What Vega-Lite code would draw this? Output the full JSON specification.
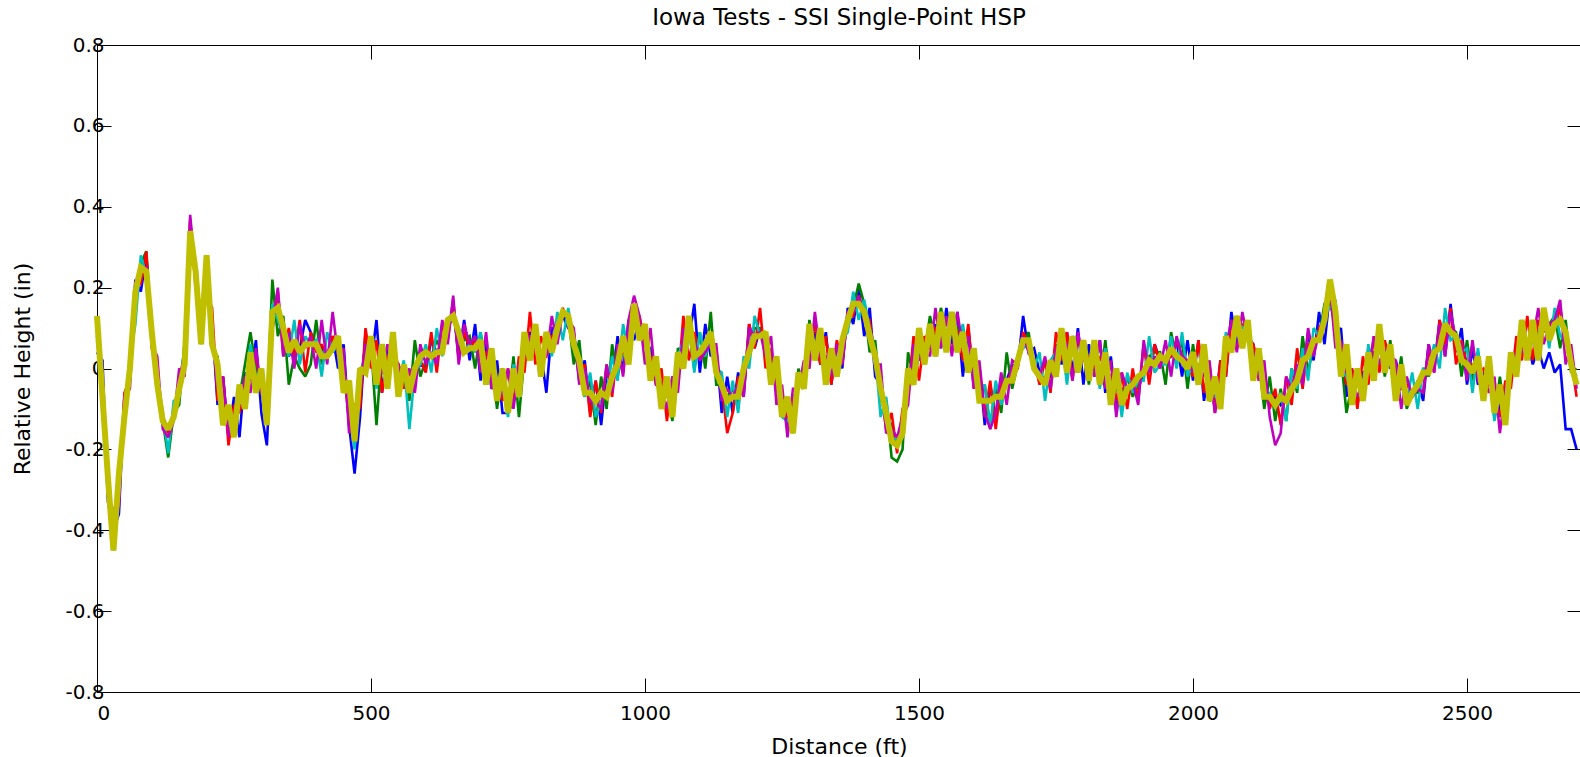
{
"$schema": "https://vega.github.io/schema/vega-lite/v6.json",
"width": 1484, "height": 647,
"autosize": {"type": "none"},
"padding": {"left": 97, "top": 45, "right": 0, "bottom": 65},
"background": "white",
"config": {
  "view": {"stroke": "black", "strokeWidth": 1},
  "font": "DejaVu Sans",
  "axis": {"labelFont": "DejaVu Sans", "labelFontSize": 20, "labelColor": "black", "titleFont": "DejaVu Sans", "titleFontSize": 22, "titleFontWeight": "normal", "titleColor": "black", "tickColor": "black", "domainColor": "black", "grid": false, "tickSize": -14},
  "line": {"strokeJoin": "miter", "strokeMiterLimit": 2}
},
"title": {"text": "Iowa Tests - SSI Single-Point HSP", "fontSize": 23, "fontWeight": "normal", "color": "black", "font": "DejaVu Sans", "offset": 5},
"data": {"values": [
{"x":0,"b":0.04,"g":0.11,"r":0.08,"c":0.07,"m":0.12,"k":0.13},
{"x":10,"b":0.02,"g":-0.08,"r":-0.02,"c":-0.04,"m":-0.04,"k":-0.07},
{"x":20,"b":-0.33,"g":-0.26,"r":-0.29,"c":-0.26,"m":-0.32,"k":-0.27},
{"x":30,"b":-0.4,"g":-0.44,"r":-0.41,"c":-0.45,"m":-0.35,"k":-0.45},
{"x":40,"b":-0.36,"g":-0.24,"r":-0.32,"c":-0.28,"m":-0.34,"k":-0.26},
{"x":50,"b":-0.07,"g":-0.13,"r":-0.06,"c":-0.09,"m":-0.07,"k":-0.12},
{"x":60,"b":-0.01,"g":0,"r":-0.03,"c":0.02,"m":-0.05,"k":0},
{"x":70,"b":0.22,"g":0.17,"r":0.21,"c":0.11,"m":0.21,"k":0.19},
{"x":80,"b":0.19,"g":0.26,"r":0.21,"c":0.28,"m":0.25,"k":0.25},
{"x":90,"b":0.28,"g":0.29,"r":0.29,"c":0.23,"m":0.25,"k":0.24},
{"x":100,"b":0.07,"g":0.09,"r":0.05,"c":0.1,"m":0.06,"k":0.09},
{"x":110,"b":-0.03,"g":-0.03,"r":-0.01,"c":-0.02,"m":0.03,"k":-0.04},
{"x":120,"b":-0.12,"g":-0.13,"r":-0.13,"c":-0.11,"m":-0.15,"k":-0.13},
{"x":130,"b":-0.15,"g":-0.22,"r":-0.16,"c":-0.21,"m":-0.17,"k":-0.15},
{"x":140,"b":-0.12,"g":-0.11,"r":-0.12,"c":-0.08,"m":-0.13,"k":-0.12},
{"x":150,"b":-0.06,"g":-0.09,"r":-0.03,"c":-0.07,"m":0,"k":-0.05},
{"x":160,"b":0.02,"g":0.07,"r":0.04,"c":0.06,"m":-0.02,"k":0.01},
{"x":170,"b":0.36,"g":0.32,"r":0.37,"c":0.29,"m":0.38,"k":0.34},
{"x":180,"b":0.23,"g":0.25,"r":0.2,"c":0.25,"m":0.23,"k":0.24},
{"x":190,"b":0.1,"g":0.06,"r":0.15,"c":0.11,"m":0.11,"k":0.06},
{"x":200,"b":0.22,"g":0.26,"r":0.18,"c":0.22,"m":0.21,"k":0.28},
{"x":210,"b":0.12,"g":0.05,"r":0.15,"c":0.07,"m":0.09,"k":0.06},
{"x":220,"b":-0.09,"g":0.03,"r":-0.08,"c":0.02,"m":-0.05,"k":0.01},
{"x":230,"b":-0.02,"g":-0.12,"r":-0.02,"c":-0.12,"m":-0.02,"k":-0.14},
{"x":240,"b":-0.17,"g":-0.13,"r":-0.19,"c":-0.14,"m":-0.17,"k":-0.09},
{"x":250,"b":-0.07,"g":-0.13,"r":-0.09,"c":-0.13,"m":-0.11,"k":-0.17},
{"x":260,"b":-0.17,"g":-0.07,"r":-0.11,"c":-0.06,"m":-0.09,"k":-0.04},
{"x":270,"b":-0.01,"g":0.01,"r":-0.04,"c":-0.1,"m":-0.02,"k":-0.1},
{"x":280,"b":-0.03,"g":0.09,"r":-0.01,"c":0.06,"m":-0.06,"k":0.04},
{"x":290,"b":0.07,"g":0,"r":0.03,"c":-0.02,"m":0.05,"k":-0.06},
{"x":300,"b":-0.11,"g":-0.04,"r":-0.05,"c":-0.05,"m":-0.06,"k":0},
{"x":310,"b":-0.19,"g":-0.1,"r":-0.11,"c":-0.12,"m":-0.11,"k":-0.14},
{"x":320,"b":0.1,"g":0.22,"r":0.11,"c":0.16,"m":0.11,"k":0.14},
{"x":330,"b":0.15,"g":0.08,"r":0.19,"c":0.12,"m":0.2,"k":0.15},
{"x":340,"b":0.08,"g":0.13,"r":0.03,"c":0.08,"m":0.03,"k":0.1},
{"x":350,"b":0.03,"g":-0.04,"r":0.1,"c":0.03,"m":0.09,"k":0.04},
{"x":360,"b":0.06,"g":0.03,"r":0.03,"c":0.12,"m":0,"k":0.07},
{"x":370,"b":0.05,"g":0,"r":0.12,"c":0.01,"m":0.11,"k":0.04},
{"x":380,"b":0.12,"g":-0.02,"r":-0.01,"c":0.08,"m":0.05,"k":0.06},
{"x":390,"b":0.09,"g":0.01,"r":0.09,"c":0.06,"m":0.08,"k":0.06},
{"x":400,"b":0.05,"g":0.12,"r":0.04,"c":0.07,"m":0,"k":0.06},
{"x":410,"b":0.05,"g":0.01,"r":0.06,"c":-0.02,"m":0.12,"k":0.03},
{"x":420,"b":0.03,"g":0.04,"r":0.03,"c":0.09,"m":0.01,"k":0.03},
{"x":430,"b":0.08,"g":0.05,"r":0.08,"c":0.04,"m":0.14,"k":0.05},
{"x":440,"b":0,"g":0.08,"r":0.05,"c":0.06,"m":0.03,"k":0.08},
{"x":450,"b":0.06,"g":-0.02,"r":0,"c":0,"m":0.05,"k":-0.06},
{"x":460,"b":-0.14,"g":-0.1,"r":-0.13,"c":-0.07,"m":-0.16,"k":-0.03},
{"x":470,"b":-0.26,"g":-0.15,"r":-0.09,"c":-0.2,"m":-0.11,"k":-0.18},
{"x":480,"b":-0.12,"g":-0.04,"r":-0.1,"c":0,"m":-0.05,"k":0},
{"x":490,"b":0.09,"g":0.06,"r":0.1,"c":0.01,"m":0.06,"k":-0.01},
{"x":500,"b":0.01,"g":0.06,"r":0,"c":0.08,"m":0.02,"k":0.08},
{"x":510,"b":0.12,"g":-0.14,"r":0.07,"c":-0.05,"m":0,"k":-0.04},
{"x":520,"b":-0.06,"g":0.05,"r":-0.06,"c":0.04,"m":-0.01,"k":0.06},
{"x":530,"b":0.05,"g":-0.03,"r":0.03,"c":-0.01,"m":0.06,"k":-0.05},
{"x":540,"b":0.01,"g":0.09,"r":0.04,"c":0.06,"m":0.01,"k":0.09},
{"x":550,"b":0.01,"g":-0.06,"r":0.01,"c":-0.03,"m":0.01,"k":-0.07},
{"x":560,"b":-0.04,"g":0.01,"r":-0.05,"c":0.02,"m":-0.03,"k":0.01},
{"x":570,"b":-0.01,"g":-0.08,"r":-0.01,"c":-0.15,"m":0,"k":-0.06},
{"x":580,"b":-0.01,"g":0.07,"r":0,"c":-0.01,"m":-0.06,"k":0},
{"x":590,"b":0.01,"g":-0.02,"r":0.02,"c":0.01,"m":0.06,"k":0.03},
{"x":600,"b":0,"g":0.02,"r":-0.01,"c":0.06,"m":0.01,"k":0.04},
{"x":610,"b":0.07,"g":0.03,"r":0.09,"c":-0.01,"m":0.04,"k":0.03},
{"x":620,"b":0.04,"g":0.07,"r":-0.01,"c":0.1,"m":0.01,"k":0.04},
{"x":630,"b":0.06,"g":0.04,"r":0.11,"c":0.03,"m":0.12,"k":0.04},
{"x":640,"b":0.1,"g":0.11,"r":0.07,"c":0.11,"m":0.06,"k":0.12},
{"x":650,"b":0.15,"g":0.12,"r":0.17,"c":0.12,"m":0.18,"k":0.13},
{"x":660,"b":0.03,"g":0.09,"r":0.02,"c":0.1,"m":0.01,"k":0.09},
{"x":670,"b":0.12,"g":0.07,"r":0.09,"c":0.04,"m":0.11,"k":0.04},
{"x":680,"b":0.02,"g":0.08,"r":0.05,"c":0.06,"m":0.06,"k":0.05},
{"x":690,"b":0.11,"g":0,"r":0.07,"c":0.04,"m":0.08,"k":0.05},
{"x":700,"b":-0.03,"g":0.09,"r":0.03,"c":0.09,"m":-0.01,"k":0.07},
{"x":710,"b":0.06,"g":-0.01,"r":0.04,"c":-0.03,"m":0.09,"k":-0.04},
{"x":720,"b":-0.05,"g":0.02,"r":-0.02,"c":0.01,"m":-0.05,"k":0.05},
{"x":730,"b":0.02,"g":-0.1,"r":-0.04,"c":-0.04,"m":-0.04,"k":-0.08},
{"x":740,"b":-0.11,"g":0,"r":-0.08,"c":-0.03,"m":-0.07,"k":0},
{"x":750,"b":-0.11,"g":-0.1,"r":0,"c":-0.12,"m":0,"k":-0.11},
{"x":760,"b":-0.08,"g":0.03,"r":-0.09,"c":0.01,"m":-0.1,"k":0},
{"x":770,"b":-0.01,"g":-0.12,"r":0.03,"c":-0.04,"m":0.01,"k":-0.07},
{"x":780,"b":0.03,"g":0.03,"r":-0.01,"c":0.04,"m":0.03,"k":0.09},
{"x":790,"b":0.09,"g":0.06,"r":0.14,"c":0.07,"m":0.08,"k":0.02},
{"x":800,"b":0.06,"g":0.1,"r":0.01,"c":0.1,"m":0.08,"k":0.11},
{"x":810,"b":0.04,"g":0.03,"r":0.08,"c":-0.01,"m":0.04,"k":-0.02},
{"x":820,"b":-0.06,"g":0.04,"r":0.03,"c":0.09,"m":0.03,"k":0.09},
{"x":830,"b":0.1,"g":0.06,"r":0.08,"c":0.03,"m":0.13,"k":0.04},
{"x":840,"b":0.1,"g":0.11,"r":0.09,"c":0.14,"m":0.06,"k":0.1},
{"x":850,"b":0.13,"g":0.14,"r":0.15,"c":0.07,"m":0.14,"k":0.14},
{"x":860,"b":0.1,"g":0.13,"r":0.11,"c":0.15,"m":0.12,"k":0.13},
{"x":870,"b":0.09,"g":0.01,"r":0.07,"c":0.06,"m":0.1,"k":0.06},
{"x":880,"b":-0.03,"g":0.07,"r":-0.01,"c":0.03,"m":-0.04,"k":0.02},
{"x":890,"b":0.02,"g":-0.07,"r":0.01,"c":-0.07,"m":0,"k":-0.06},
{"x":900,"b":-0.11,"g":-0.03,"r":-0.12,"c":-0.01,"m":-0.08,"k":-0.06},
{"x":910,"b":-0.03,"g":-0.14,"r":-0.03,"c":-0.12,"m":-0.08,"k":-0.08},
{"x":920,"b":-0.14,"g":-0.02,"r":-0.11,"c":-0.08,"m":-0.1,"k":-0.06},
{"x":930,"b":-0.01,"g":-0.1,"r":0.01,"c":-0.06,"m":0.01,"k":-0.07},
{"x":940,"b":-0.04,"g":0.06,"r":-0.07,"c":0.03,"m":-0.06,"k":-0.02},
{"x":950,"b":0.08,"g":-0.02,"r":0.05,"c":-0.03,"m":0.06,"k":0.01},
{"x":960,"b":-0.01,"g":0.05,"r":0.04,"c":0.11,"m":-0.02,"k":0.08},
{"x":970,"b":0.12,"g":0.06,"r":0.08,"c":0.04,"m":0.12,"k":0.01},
{"x":980,"b":0.07,"g":0.14,"r":0.1,"c":0.11,"m":0.18,"k":0.16},
{"x":990,"b":0.12,"g":0.09,"r":0.13,"c":0.1,"m":0.13,"k":0.07},
{"x":1000,"b":0.06,"g":0.06,"r":0.06,"c":0.08,"m":0.01,"k":0.11},
{"x":1010,"b":0.05,"g":0.02,"r":0.03,"c":0.01,"m":0.1,"k":-0.03},
{"x":1020,"b":-0.02,"g":0,"r":-0.04,"c":-0.01,"m":-0.04,"k":0.03},
{"x":1030,"b":-0.06,"g":-0.04,"r":0,"c":-0.07,"m":-0.05,"k":-0.1},
{"x":1040,"b":-0.1,"g":-0.06,"r":-0.13,"c":-0.03,"m":-0.1,"k":-0.02},
{"x":1050,"b":-0.04,"g":-0.13,"r":-0.02,"c":-0.12,"m":-0.02,"k":-0.12},
{"x":1060,"b":0,"g":0.05,"r":-0.04,"c":0.03,"m":-0.06,"k":0.04},
{"x":1070,"b":0.07,"g":0.04,"r":0.13,"c":0.07,"m":0.1,"k":0},
{"x":1080,"b":0.07,"g":0.12,"r":0.02,"c":0.1,"m":0.08,"k":0.13},
{"x":1090,"b":0.16,"g":0,"r":0.09,"c":-0.01,"m":0.07,"k":0.03},
{"x":1100,"b":-0.01,"g":0.09,"r":0.03,"c":0.09,"m":0.02,"k":0.04},
{"x":1110,"b":0.11,"g":0,"r":0.06,"c":0.03,"m":0.04,"k":0.06},
{"x":1120,"b":0.03,"g":0.14,"r":0.06,"c":0.08,"m":0.06,"k":0.09},
{"x":1130,"b":0.05,"g":-0.04,"r":0.02,"c":0,"m":0.06,"k":-0.01},
{"x":1140,"b":-0.11,"g":-0.04,"r":-0.04,"c":-0.01,"m":-0.08,"k":-0.04},
{"x":1150,"b":-0.02,"g":-0.07,"r":-0.16,"c":-0.12,"m":-0.05,"k":-0.08},
{"x":1160,"b":-0.11,"g":-0.05,"r":-0.11,"c":-0.03,"m":-0.07,"k":-0.07},
{"x":1170,"b":-0.01,"g":-0.09,"r":-0.02,"c":-0.11,"m":-0.04,"k":-0.07},
{"x":1180,"b":-0.07,"g":-0.01,"r":-0.06,"c":0.03,"m":-0.07,"k":0},
{"x":1190,"b":0.11,"g":0.05,"r":0.11,"c":0,"m":0.1,"k":0.04},
{"x":1200,"b":0.05,"g":0.1,"r":0.05,"c":0.13,"m":0.08,"k":0.08},
{"x":1210,"b":0.1,"g":0.1,"r":0.15,"c":0.08,"m":0.09,"k":0.08},
{"x":1220,"b":0.06,"g":0.08,"r":0,"c":0.07,"m":0.03,"k":0.09},
{"x":1230,"b":0.04,"g":-0.04,"r":0.05,"c":-0.01,"m":0.08,"k":-0.04},
{"x":1240,"b":-0.05,"g":0.01,"r":-0.05,"c":0.02,"m":-0.09,"k":0.03},
{"x":1250,"b":-0.09,"g":-0.11,"r":-0.07,"c":-0.12,"m":-0.04,"k":-0.12},
{"x":1260,"b":-0.14,"g":-0.08,"r":-0.13,"c":-0.13,"m":-0.17,"k":-0.07},
{"x":1270,"b":-0.07,"g":-0.16,"r":-0.08,"c":-0.11,"m":-0.05,"k":-0.16},
{"x":1280,"b":-0.05,"g":0,"r":-0.05,"c":-0.01,"m":-0.05,"k":-0.01},
{"x":1290,"b":0,"g":-0.05,"r":0,"c":-0.05,"m":0.02,"k":-0.05},
{"x":1300,"b":0.04,"g":0.12,"r":0.02,"c":0.11,"m":0,"k":0.11},
{"x":1310,"b":0.09,"g":0.03,"r":0.12,"c":0.04,"m":0.14,"k":0.02},
{"x":1320,"b":0.01,"g":0.06,"r":0.01,"c":0.06,"m":0.03,"k":0.1},
{"x":1330,"b":0.09,"g":0.02,"r":0.08,"c":0.02,"m":0.03,"k":-0.04},
{"x":1340,"b":-0.04,"g":0.03,"r":-0.04,"c":0.02,"m":-0.02,"k":0.05},
{"x":1350,"b":0.06,"g":-0.01,"r":0.07,"c":-0.01,"m":0.06,"k":-0.02},
{"x":1360,"b":0,"g":0.07,"r":0.01,"c":0.07,"m":0.01,"k":0.07},
{"x":1370,"b":0.15,"g":0.1,"r":0.14,"c":0.09,"m":0.14,"k":0.12},
{"x":1380,"b":0.11,"g":0.15,"r":0.13,"c":0.19,"m":0.14,"k":0.16},
{"x":1390,"b":0.2,"g":0.21,"r":0.18,"c":0.12,"m":0.18,"k":0.16},
{"x":1400,"b":0.08,"g":0.16,"r":0.13,"c":0.17,"m":0.12,"k":0.14},
{"x":1410,"b":0.15,"g":0.04,"r":0.12,"c":0.1,"m":0.09,"k":0.08},
{"x":1420,"b":-0.02,"g":0.07,"r":0.02,"c":0.04,"m":0.01,"k":0.03},
{"x":1430,"b":-0.04,"g":-0.08,"r":-0.05,"c":-0.12,"m":0.01,"k":-0.05},
{"x":1440,"b":-0.12,"g":-0.08,"r":-0.15,"c":-0.07,"m":-0.16,"k":-0.11},
{"x":1450,"b":-0.14,"g":-0.22,"r":-0.11,"c":-0.18,"m":-0.15,"k":-0.18},
{"x":1460,"b":-0.19,"g":-0.23,"r":-0.21,"c":-0.17,"m":-0.17,"k":-0.19},
{"x":1470,"b":-0.16,"g":-0.2,"r":-0.1,"c":-0.15,"m":-0.12,"k":-0.16},
{"x":1480,"b":-0.05,"g":0.04,"r":-0.07,"c":0,"m":-0.09,"k":0},
{"x":1490,"b":0.05,"g":-0.02,"r":0.08,"c":-0.04,"m":0.06,"k":-0.04},
{"x":1500,"b":0.03,"g":0.03,"r":-0.03,"c":0.08,"m":0.02,"k":0.1},
{"x":1510,"b":0.05,"g":0.04,"r":0.08,"c":0.01,"m":0.05,"k":0.01},
{"x":1520,"b":0.05,"g":0.13,"r":0.05,"c":0.1,"m":0.03,"k":0.11},
{"x":1530,"b":0.11,"g":0.07,"r":0.1,"c":0.03,"m":0.15,"k":0.03},
{"x":1540,"b":0.05,"g":0.15,"r":0.09,"c":0.14,"m":0.05,"k":0.14},
{"x":1550,"b":0.15,"g":0.08,"r":0.11,"c":0.08,"m":0.13,"k":0.04},
{"x":1560,"b":0.06,"g":0.11,"r":0.1,"c":0.11,"m":0.03,"k":0.14},
{"x":1570,"b":0.14,"g":0.1,"r":0.09,"c":0.06,"m":0.14,"k":0.04},
{"x":1580,"b":-0.02,"g":0.07,"r":0.02,"c":0.11,"m":0.05,"k":0.09},
{"x":1590,"b":0.1,"g":0,"r":0.11,"c":0.02,"m":0.08,"k":-0.01},
{"x":1600,"b":-0.03,"g":0.05,"r":-0.05,"c":-0.01,"m":-0.05,"k":0.05},
{"x":1610,"b":0.01,"g":-0.08,"r":0,"c":-0.06,"m":0.02,"k":-0.08},
{"x":1620,"b":-0.14,"g":-0.04,"r":-0.12,"c":-0.04,"m":-0.11,"k":-0.08},
{"x":1630,"b":-0.04,"g":-0.15,"r":-0.03,"c":-0.14,"m":-0.15,"k":-0.08},
{"x":1640,"b":-0.13,"g":-0.04,"r":-0.15,"c":-0.03,"m":-0.11,"k":-0.07},
{"x":1650,"b":-0.05,"g":-0.11,"r":-0.03,"c":-0.09,"m":-0.01,"k":-0.07},
{"x":1660,"b":-0.03,"g":0.04,"r":-0.04,"c":-0.03,"m":-0.09,"k":-0.03},
{"x":1670,"b":0.01,"g":-0.05,"r":0,"c":-0.02,"m":0.02,"k":-0.03},
{"x":1680,"b":0,"g":0.01,"r":0,"c":0.03,"m":0.01,"k":0.02},
{"x":1690,"b":0.13,"g":0.06,"r":0.09,"c":0.05,"m":0.08,"k":0.07},
{"x":1700,"b":0.04,"g":0.09,"r":0.06,"c":0.06,"m":0.04,"k":0.07},
{"x":1710,"b":0.05,"g":0,"r":0.02,"c":0,"m":0.01,"k":0},
{"x":1720,"b":-0.01,"g":-0.01,"r":-0.04,"c":0.04,"m":-0.02,"k":-0.02},
{"x":1730,"b":-0.03,"g":-0.04,"r":0.02,"c":-0.08,"m":0.03,"k":-0.04},
{"x":1740,"b":-0.02,"g":0,"r":-0.06,"c":0.02,"m":-0.05,"k":0.02},
{"x":1750,"b":0.06,"g":0.05,"r":0.09,"c":0.04,"m":0.05,"k":-0.02},
{"x":1760,"b":0.01,"g":0.08,"r":0.02,"c":0.08,"m":0.07,"k":0.1},
{"x":1770,"b":0.09,"g":-0.03,"r":0.09,"c":-0.04,"m":0.06,"k":-0.01},
{"x":1780,"b":-0.01,"g":0.08,"r":-0.03,"c":0.08,"m":-0.03,"k":0.08},
{"x":1790,"b":0.1,"g":0.02,"r":0.08,"c":0.03,"m":0.09,"k":-0.01},
{"x":1800,"b":-0.04,"g":0.07,"r":0.02,"c":0.04,"m":0.02,"k":0.07},
{"x":1810,"b":0.06,"g":-0.04,"r":0.03,"c":0.02,"m":0.02,"k":-0.03},
{"x":1820,"b":-0.02,"g":0.06,"r":0,"c":0.04,"m":-0.02,"k":0.07},
{"x":1830,"b":0.07,"g":-0.04,"r":0.03,"c":-0.05,"m":0.07,"k":-0.04},
{"x":1840,"b":-0.06,"g":0.07,"r":0,"c":0.05,"m":-0.05,"k":0.04},
{"x":1850,"b":0.03,"g":-0.06,"r":-0.02,"c":-0.06,"m":0.02,"k":-0.09},
{"x":1860,"b":-0.09,"g":-0.05,"r":-0.08,"c":-0.01,"m":-0.12,"k":0},
{"x":1870,"b":-0.05,"g":-0.07,"r":-0.01,"c":-0.12,"m":-0.01,"k":-0.09},
{"x":1880,"b":-0.05,"g":-0.02,"r":-0.1,"c":-0.01,"m":-0.05,"k":-0.05},
{"x":1890,"b":-0.03,"g":-0.07,"r":0,"c":-0.06,"m":-0.03,"k":-0.04},
{"x":1900,"b":-0.05,"g":-0.04,"r":-0.08,"c":-0.03,"m":-0.09,"k":-0.02},
{"x":1910,"b":-0.01,"g":-0.01,"r":0.06,"c":-0.03,"m":0.07,"k":-0.01},
{"x":1920,"b":0,"g":0.03,"r":-0.04,"c":0.08,"m":-0.01,"k":0.02},
{"x":1930,"b":0.06,"g":0.04,"r":0.06,"c":-0.01,"m":0.03,"k":0.01},
{"x":1940,"b":0.02,"g":0.04,"r":0.01,"c":0.01,"m":0,"k":0.03},
{"x":1950,"b":0.02,"g":-0.04,"r":0.03,"c":0.01,"m":0.07,"k":0.02},
{"x":1960,"b":0.03,"g":0.09,"r":0.03,"c":0.08,"m":-0.02,"k":0.05},
{"x":1970,"b":0.07,"g":0.02,"r":0.07,"c":0,"m":0.08,"k":0.03},
{"x":1980,"b":-0.02,"g":0.07,"r":0.03,"c":0.09,"m":0.03,"k":0.02},
{"x":1990,"b":0.07,"g":-0.05,"r":0.01,"c":-0.02,"m":0.02,"k":0},
{"x":2000,"b":-0.03,"g":0.06,"r":-0.02,"c":0.01,"m":-0.01,"k":0.04},
{"x":2010,"b":0.07,"g":-0.03,"r":0.07,"c":0.01,"m":0.01,"k":-0.04},
{"x":2020,"b":-0.08,"g":0.06,"r":-0.06,"c":0.01,"m":-0.02,"k":0.06},
{"x":2030,"b":0,"g":-0.08,"r":0.01,"c":-0.06,"m":0.02,"k":-0.08},
{"x":2040,"b":-0.1,"g":-0.07,"r":-0.11,"c":-0.07,"m":-0.11,"k":-0.02},
{"x":2050,"b":0.02,"g":-0.05,"r":0.02,"c":-0.06,"m":-0.03,"k":-0.1},
{"x":2060,"b":-0.02,"g":0.07,"r":-0.02,"c":0.09,"m":0.05,"k":0.08},
{"x":2070,"b":0.14,"g":0.07,"r":0.12,"c":0.04,"m":0.12,"k":0.04},
{"x":2080,"b":0.06,"g":0.1,"r":0.09,"c":0.13,"m":0.04,"k":0.13},
{"x":2090,"b":0.11,"g":0.09,"r":0.11,"c":0.1,"m":0.14,"k":0.05},
{"x":2100,"b":0.08,"g":0.09,"r":0.07,"c":0.1,"m":0.07,"k":0.12},
{"x":2110,"b":0.06,"g":0.05,"r":0.06,"c":-0.03,"m":0.04,"k":-0.03},
{"x":2120,"b":-0.01,"g":0.02,"r":0,"c":0.05,"m":-0.03,"k":0.05},
{"x":2130,"b":-0.05,"g":-0.1,"r":-0.04,"c":-0.06,"m":0.02,"k":-0.07},
{"x":2140,"b":-0.09,"g":-0.02,"r":-0.1,"c":-0.06,"m":-0.12,"k":-0.07},
{"x":2150,"b":-0.07,"g":-0.13,"r":-0.05,"c":-0.1,"m":-0.19,"k":-0.09},
{"x":2160,"b":-0.09,"g":-0.05,"r":-0.14,"c":-0.06,"m":-0.16,"k":-0.07},
{"x":2170,"b":-0.07,"g":-0.13,"r":-0.02,"c":-0.13,"m":-0.02,"k":-0.08},
{"x":2180,"b":-0.06,"g":0,"r":-0.09,"c":0,"m":-0.05,"k":-0.05},
{"x":2190,"b":0.01,"g":-0.06,"r":0.05,"c":-0.05,"m":0.01,"k":-0.03},
{"x":2200,"b":-0.04,"g":0.08,"r":-0.05,"c":0.05,"m":-0.04,"k":0.02},
{"x":2210,"b":0.09,"g":-0.01,"r":0.06,"c":-0.03,"m":0.1,"k":0.03},
{"x":2220,"b":0.02,"g":0.06,"r":0.05,"c":0.1,"m":0.03,"k":0.07},
{"x":2230,"b":0.14,"g":0.08,"r":0.1,"c":0.08,"m":0.09,"k":0.07},
{"x":2240,"b":0.06,"g":0.16,"r":0.12,"c":0.14,"m":0.11,"k":0.12},
{"x":2250,"b":0.19,"g":0.16,"r":0.2,"c":0.15,"m":0.2,"k":0.22},
{"x":2260,"b":0.08,"g":0.11,"r":0.11,"c":0.17,"m":0.05,"k":0.14},
{"x":2270,"b":0.1,"g":0.03,"r":0.04,"c":0,"m":0.07,"k":-0.02},
{"x":2280,"b":-0.07,"g":-0.11,"r":-0.04,"c":-0.02,"m":-0.01,"k":0.06},
{"x":2290,"b":0,"g":-0.04,"r":0,"c":-0.06,"m":-0.04,"k":-0.09},
{"x":2300,"b":-0.09,"g":-0.03,"r":-0.1,"c":-0.01,"m":-0.07,"k":0},
{"x":2310,"b":-0.01,"g":-0.08,"r":0.03,"c":-0.07,"m":-0.03,"k":-0.08},
{"x":2320,"b":0,"g":0.05,"r":-0.04,"c":0.06,"m":-0.01,"k":0.04},
{"x":2330,"b":0.04,"g":-0.01,"r":0.08,"c":-0.01,"m":0.08,"k":-0.03},
{"x":2340,"b":0.04,"g":0.09,"r":-0.01,"c":0.05,"m":0.01,"k":0.11},
{"x":2350,"b":0.03,"g":-0.02,"r":0.07,"c":0.03,"m":0.05,"k":-0.01},
{"x":2360,"b":0,"g":0.07,"r":0.01,"c":0.04,"m":0.03,"k":0.06},
{"x":2370,"b":0.02,"g":-0.06,"r":0,"c":-0.03,"m":0.02,"k":-0.08},
{"x":2380,"b":-0.04,"g":0.03,"r":-0.05,"c":-0.04,"m":-0.1,"k":0.01},
{"x":2390,"b":-0.06,"g":-0.1,"r":-0.04,"c":-0.08,"m":-0.02,"k":-0.09},
{"x":2400,"b":-0.07,"g":-0.06,"r":-0.06,"c":-0.01,"m":-0.07,"k":-0.06},
{"x":2410,"b":-0.03,"g":-0.06,"r":-0.05,"c":-0.1,"m":-0.05,"k":-0.04},
{"x":2420,"b":-0.08,"g":0,"r":-0.06,"c":0,"m":-0.06,"k":-0.01},
{"x":2430,"b":0.06,"g":-0.02,"r":0.05,"c":0,"m":0.06,"k":-0.01},
{"x":2440,"b":0,"g":0.04,"r":-0.01,"c":0.06,"m":-0.01,"k":0.04},
{"x":2450,"b":0.12,"g":0.06,"r":0.12,"c":0,"m":0.11,"k":0.05},
{"x":2460,"b":0.03,"g":0.11,"r":0.06,"c":0.15,"m":0.03,"k":0.11},
{"x":2470,"b":0.16,"g":0.1,"r":0.15,"c":0.07,"m":0.14,"k":0.09},
{"x":2480,"b":0.04,"g":0.09,"r":0.01,"c":0.08,"m":0.07,"k":0.08},
{"x":2490,"b":0.1,"g":-0.02,"r":0.07,"c":0.04,"m":0.06,"k":0.02},
{"x":2500,"b":-0.04,"g":0.07,"r":0.01,"c":0.05,"m":-0.03,"k":0.01},
{"x":2510,"b":0.05,"g":-0.03,"r":0.01,"c":-0.06,"m":0.07,"k":-0.01},
{"x":2520,"b":-0.04,"g":0.04,"r":-0.01,"c":0.05,"m":-0.03,"k":0.03},
{"x":2530,"b":-0.01,"g":-0.08,"r":0,"c":-0.06,"m":-0.02,"k":-0.08},
{"x":2540,"b":-0.04,"g":0.01,"r":-0.04,"c":0,"m":-0.06,"k":0.03},
{"x":2550,"b":-0.05,"g":-0.12,"r":-0.07,"c":-0.13,"m":-0.02,"k":-0.11},
{"x":2560,"b":-0.1,"g":-0.02,"r":-0.12,"c":-0.05,"m":-0.16,"k":-0.04},
{"x":2570,"b":-0.09,"g":-0.12,"r":-0.03,"c":-0.09,"m":-0.05,"k":-0.14},
{"x":2580,"b":-0.02,"g":0,"r":-0.05,"c":0.01,"m":0,"k":0.04},
{"x":2590,"b":0.06,"g":0.02,"r":0.08,"c":0,"m":0.04,"k":-0.02},
{"x":2600,"b":0.06,"g":0.09,"r":0.02,"c":0.12,"m":0.04,"k":0.12},
{"x":2610,"b":0.07,"g":0.05,"r":0.13,"c":0.03,"m":0.06,"k":0.02},
{"x":2620,"b":0.01,"g":0.08,"r":0.02,"c":0.07,"m":0.07,"k":0.12},
{"x":2630,"b":0.05,"g":0.08,"r":0.12,"c":0.08,"m":0.15,"k":0.02},
{"x":2640,"b":0,"g":0.11,"r":0.09,"c":0.14,"m":0.06,"k":0.15},
{"x":2650,"b":0.04,"g":0.11,"r":0.11,"c":0.05,"m":0.11,"k":0.07},
{"x":2660,"b":-0.01,"g":0.13,"r":0.1,"c":0.15,"m":0.12,"k":0.11},
{"x":2670,"b":0.01,"g":0.05,"r":0.15,"c":0.08,"m":0.17,"k":0.12},
{"x":2680,"b":-0.15,"g":0.12,"r":0.07,"c":0.07,"m":0.01,"k":0.09},
{"x":2690,"b":-0.15,"g":-0.01,"r":0.02,"c":0.01,"m":0.06,"k":0.01},
{"x":2700,"b":-0.2,"g":0,"r":-0.07,"c":-0.02,"m":-0.05,"k":-0.04}
]},
"layer": [
  {"mark": {"type": "line", "color": "#0000ff", "strokeWidth": 2.6},
   "encoding": {
     "x": {"field": "x", "type": "quantitative", "scale": {"domain": [0, 2708], "nice": false, "zero": false},
           "axis": {"orient": "bottom", "values": [0, 500, 1000, 1500, 2000, 2500], "format": "d", "labelPadding": 25, "title": "Distance (ft)", "titlePadding": 13}},
     "y": {"field": "b", "type": "quantitative", "scale": {"domain": [-0.8, 0.8], "nice": false},
           "axis": {"orient": "left", "values": [-0.8, -0.6, -0.4, -0.2, 0, 0.2, 0.4, 0.6, 0.8], "labelPadding": 7, "labelExpr": "datum.value == 0 ? '0' : (datum.value < 0 ? '-' + format(-datum.value, '.1f') : format(datum.value, '.1f'))", "title": "Relative Height (in)", "titlePadding": 30}}
   }},
  {"mark": {"type": "line", "color": "#008000", "strokeWidth": 2.6},
   "encoding": {"x": {"field": "x", "type": "quantitative", "axis": null}, "y": {"field": "g", "type": "quantitative", "axis": null}}},
  {"mark": {"type": "line", "color": "#ff0000", "strokeWidth": 2.6},
   "encoding": {"x": {"field": "x", "type": "quantitative", "axis": null}, "y": {"field": "r", "type": "quantitative", "axis": null}}},
  {"mark": {"type": "line", "color": "#00bfbf", "strokeWidth": 2.6},
   "encoding": {"x": {"field": "x", "type": "quantitative", "axis": null}, "y": {"field": "c", "type": "quantitative", "axis": null}}},
  {"mark": {"type": "line", "color": "#bf00bf", "strokeWidth": 2.6},
   "encoding": {"x": {"field": "x", "type": "quantitative", "axis": null}, "y": {"field": "m", "type": "quantitative", "axis": null}}},
  {"mark": {"type": "line", "color": "#bfbf00", "strokeWidth": 6},
   "encoding": {
     "x": {"field": "x", "type": "quantitative", "axis": {"orient": "top", "values": [0, 500, 1000, 1500, 2000, 2500], "labels": false, "title": null, "domain": false}},
     "y": {"field": "k", "type": "quantitative", "axis": {"orient": "right", "values": [-0.8, -0.6, -0.4, -0.2, 0, 0.2, 0.4, 0.6, 0.8], "labels": false, "title": null, "domain": false}}
   }}
],
"resolve": {"axis": {"x": "independent", "y": "independent"}}
}
